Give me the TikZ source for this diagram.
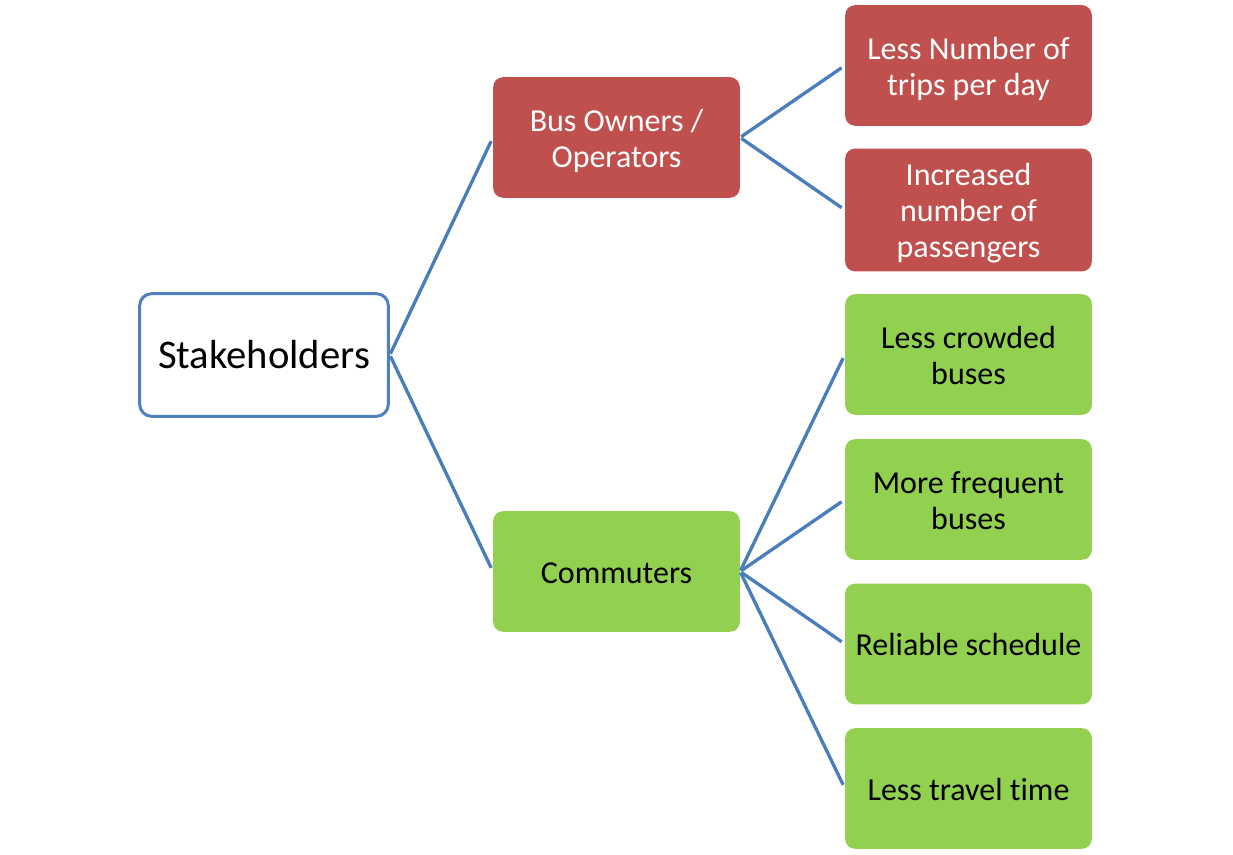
\documentclass[tikz,border=0pt]{standalone}
\usepackage{fontspec}
\setmainfont{Carlito}[Ligatures=NoCommon]
\definecolor{accentblue}{HTML}{4F81BD}
\definecolor{linkblue}{HTML}{4A7EBB}
\definecolor{ownerred}{HTML}{C0504D}
\definecolor{commutergreen}{HTML}{92D050}
% centred block of lines, set a little below the middle of its box
\newcommand{\boxlines}[1]{\raisebox{0pt}[\dimexpr\height+7.2pt\relax][\depth]{\begin{tabular}{@{}c@{}}#1\end{tabular}}}
\begin{document}
\begin{tikzpicture}[x=0.75pt,y=-0.75pt,
  box/.style={rounded corners=7.5pt,minimum width=185pt,minimum height=90.5pt,
    inner sep=2pt,align=center,font=\fontsize{24}{27}\selectfont},
  redbox/.style={box,fill=ownerred,text=white},
  greenbox/.style={box,fill=commutergreen,text=black},
  rootbox/.style={rounded corners=9pt,draw=accentblue,line width=2.25pt,fill=white,
    minimum width=186.5pt,minimum height=92pt,align=center,
    font=\fontsize{30.5}{34}\selectfont},
  link/.style={draw=linkblue,line width=2.5pt,shorten >=3pt,shorten <=1pt}]
\useasboundingbox (0,0) rectangle (1233,855);
% root
\node[rootbox] (root) at (264,355) {Stakeholders};
% second level
\node[redbox] (owners) at (616.5,137.5) {\boxlines{Bus Owners /\\Operators}};
\node[greenbox] (commuters) at (616.5,571.5) {\boxlines{Commuters}};
% third level
\node[redbox] (trips) at (968.5,65.5) {\boxlines{Less Number of\\trips per day}};
\node[redbox] (passengers) at (968.5,210) {\boxlines{Increased\\number of\\passengers}};
\node[greenbox] (crowded) at (968.5,354.5) {\boxlines{Less crowded\\buses}};
\node[greenbox] (frequent) at (968.5,499.5) {\boxlines{More frequent\\buses}};
\node[greenbox] (schedule) at (968.5,644) {\boxlines{Reliable schedule}};
\node[greenbox] (travel) at (968.5,788.5) {\boxlines{Less travel time}};
% connectors
\draw[link] (root.east) -- (owners.west);
\draw[link] (root.east) -- (commuters.west);
\draw[link] (owners.east) -- (trips.west);
\draw[link] (owners.east) -- (passengers.west);
\draw[link] (commuters.east) -- (crowded.west);
\draw[link] (commuters.east) -- (frequent.west);
\draw[link] (commuters.east) -- (schedule.west);
\draw[link] (commuters.east) -- (travel.west);
\end{tikzpicture}
\end{document}
